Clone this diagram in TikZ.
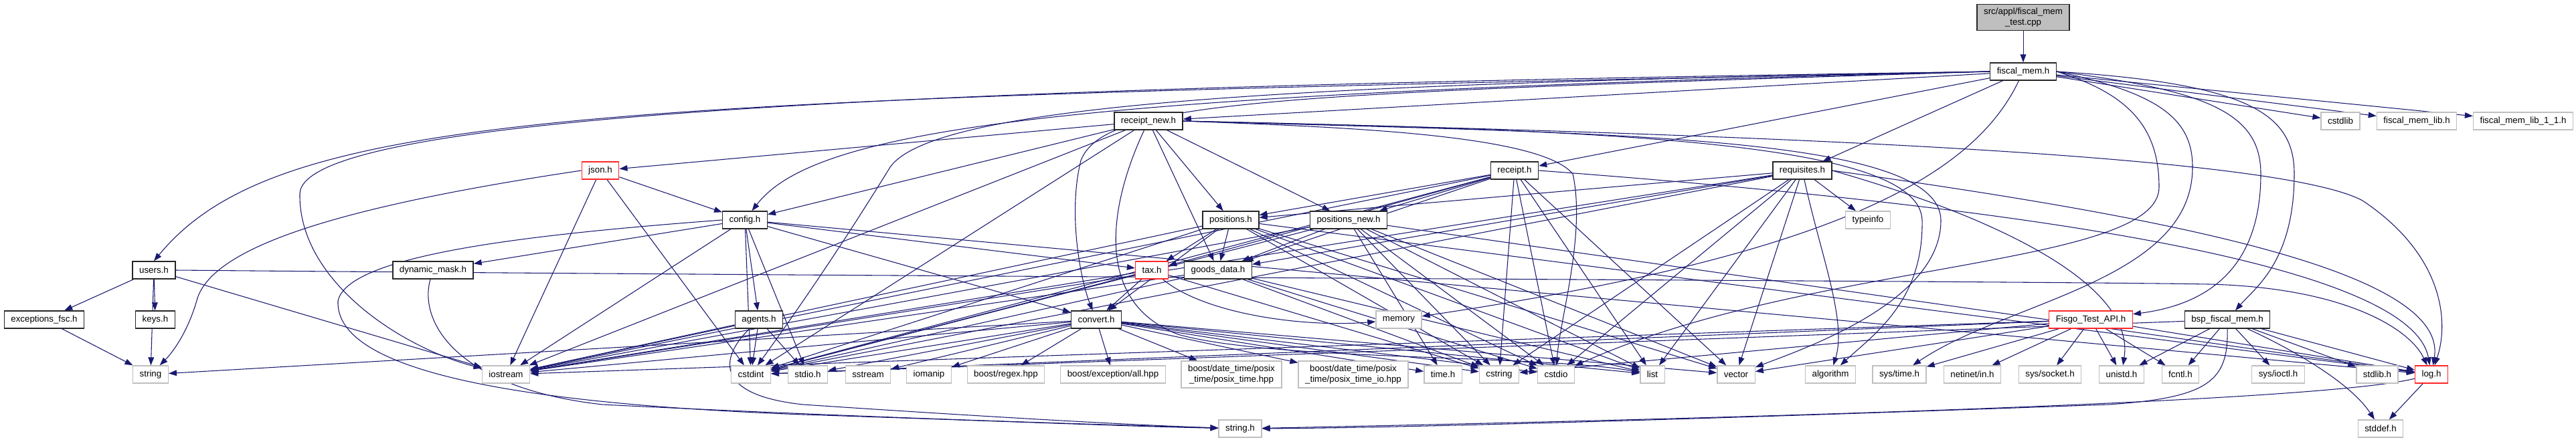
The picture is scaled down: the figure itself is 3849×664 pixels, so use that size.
\documentclass[tikz,border=0pt]{standalone}
\usepackage{fontspec}
\setmainfont{Liberation Sans}
\usetikzlibrary{arrows.meta,backgrounds}

\definecolor{edgeblue}{HTML}{191970}
\definecolor{boxgray}{HTML}{BFBFBF}

\tikzset{
  file/.style={rectangle, fill=white, inner xsep=7.5pt, inner ysep=2pt, minimum height=19.5pt,
    font=\fontsize{10}{12}\selectfont, align=center, line width=1pt},
  docfile/.style={file, draw=black!85},
  sysfile/.style={file, draw=boxgray},
  cutfile/.style={file, draw=red!85},
  srcfile/.style={file, draw=black!85, fill=boxgray},
  dep/.style={draw=edgeblue, line width=0.8pt, -{Triangle[length=9pt,width=6.5pt]}},
}

\begin{document}
\begin{tikzpicture}[x=0.75pt, y=-0.75pt]
	\useasboundingbox (0,0) rectangle (3849,664);

	% --- SOURCE FILE ---
	\node[srcfile, minimum height=29.5pt] (main) at (3023,26) {src/appl/fiscal\_mem\\\_test.cpp};

	% --- PROJECT HEADERS ---
	\node[docfile] (fmem) at (3023,107) {fiscal\_mem.h};
	\node[docfile] (recnew) at (1716,181) {receipt\_new.h};
	\node[cutfile] (json) at (897,255) {json.h};
	\node[docfile] (receipt) at (2263,255) {receipt.h};
	\node[docfile] (requis) at (2693,255) {requisites.h};
	\node[docfile] (config) at (1113,329) {config.h};
	\node[docfile] (positions) at (1839,329) {positions.h};
	\node[docfile] (posnew) at (2015,329) {positions\_new.h};
	\node[docfile] (users) at (230,404) {users.h};
	\node[docfile] (dynmask) at (647,404) {dynamic\_mask.h};
	\node[cutfile] (tax) at (1721,404) {tax.h};
	\node[docfile] (goods) at (1820,404) {goods\_data.h};
	\node[docfile] (excfsc) at (66,478) {exceptions\_fsc.h};
	\node[docfile] (keys) at (232,478) {keys.h};
	\node[docfile] (agents) at (1134,478) {agents.h};
	\node[docfile] (convert) at (1638,478) {convert.h};
	\node[cutfile] (fisgo) at (3124,478) {Fisgo\_Test\_API.h};
	\node[docfile] (bsp) at (3328,478) {bsp\_fiscal\_mem.h};
	\node[cutfile] (logh) at (3633,560) {log.h};

	% --- SYSTEM HEADERS ---
	\node[sysfile] (cstdlib) at (3497,181) {cstdlib};
	\node[sysfile] (fmlib) at (3611,181) {fiscal\_mem\_lib.h};
	\node[sysfile] (fmlib11) at (3770,181) {fiscal\_mem\_lib\_1\_1.h};
	\node[sysfile] (typeinfo) at (2791,329) {typeinfo};
	\node[sysfile] (memory) at (2090,478) {memory};
	\node[sysfile] (string) at (225,560) {string};
	\node[sysfile] (iostream) at (756,560) {iostream};
	\node[sysfile] (cstdint) at (1122,560) {cstdint};
	\node[sysfile] (stdioh) at (1207,560) {stdio.h};
	\node[sysfile] (sstream) at (1297,560) {sstream};
	\node[sysfile] (iomanip) at (1388,560) {iomanip};
	\node[sysfile] (regex) at (1503,560) {boost/regex.hpp};
	\node[sysfile] (bexc) at (1663,560) {boost/exception/all.hpp};
	\node[sysfile, minimum height=30pt] (ptime) at (1840,560) {boost/date\_time/posix\\\_time/posix\_time.hpp};
	\node[sysfile, minimum height=30pt] (ptimeio) at (2022,560) {boost/date\_time/posix\\\_time/posix\_time\_io.hpp};
	\node[sysfile] (timeh) at (2156,560) {time.h};
	\node[sysfile] (cstring) at (2240,560) {cstring};
	\node[sysfile] (cstdio) at (2325,560) {cstdio};
	\node[sysfile] (list) at (2469,560) {list};
	\node[sysfile] (vector) at (2594,560) {vector};
	\node[sysfile] (algorithm) at (2735,560) {algorithm};
	\node[sysfile] (systime) at (2838,560) {sys/time.h};
	\node[sysfile] (netinet) at (2947,560) {netinet/in.h};
	\node[sysfile] (syssocket) at (3063,560) {sys/socket.h};
	\node[sysfile] (unistd) at (3170,560) {unistd.h};
	\node[sysfile] (fcntl) at (3258,560) {fcntl.h};
	\node[sysfile] (ioctl) at (3404,560) {sys/ioctl.h};
	\node[sysfile] (stdlibh) at (3552,560) {stdlib.h};
	\node[sysfile] (stringh) at (1853,641) {string.h};
	\node[sysfile] (stddef) at (3557,641) {stddef.h};

	\begin{pgfonlayer}{background}
	% --- fiscal_mem_test.cpp / fiscal_mem.h ---
	\draw[dep] (main) -- (fmem);
	\draw[dep] (fmem.west) .. controls (900,150) and (420,160) .. (users.north);
	\draw[dep] (fmem.west) .. controls (1400,130) and (450,170) .. (448,290) .. controls (446,420) and (600,520) .. (iostream);
	\draw[dep] (fmem.west) .. controls (1600,140) and (1220,190) .. (config);
	\draw[dep] (fmem.west) .. controls (1900,140) and (1650,150) .. (1615,240) .. controls (1595,320) and (1615,420) .. (convert);
	\draw[dep] (fmem.west) .. controls (2000,125) and (1400,150) .. (1330,250) .. controls (1250,380) and (1180,480) .. (cstdint);
	\draw[dep] (fmem) .. controls (2950,260) and (2750,380) .. (memory);
	\draw[dep] (fmem.east) .. controls (3300,135) and (3378,170) .. (3378,260) .. controls (3378,400) and (3300,455) .. (fisgo);
	\draw[dep] (fmem.east) .. controls (3360,125) and (3428,170) .. (3428,260) .. controls (3428,390) and (3370,430) .. (bsp);
	\draw[dep] (fmem.east) .. controls (3230,140) and (3276,180) .. (3276,250) .. controls (3276,420) and (3000,450) .. (systime);
	\draw[dep] (fmem.east) .. controls (3180,140) and (3226,190) .. (3226,280) .. controls (3226,400) and (2700,390) .. (cstdio);
	\foreach \t in {recnew,receipt,requis,cstdlib,fmlib,fmlib11}
		\draw[dep] (fmem) -- (\t);

	% --- receipt_new.h ---
	\foreach \t in {json,config,positions,posnew,goods,iostream,cstdint}
		\draw[dep] (recnew) -- (\t);
	\draw[dep] (recnew) .. controls (1660,300) and (1630,450) .. (1760,500) .. controls (1900,540) and (2300,530) .. (list);
	\draw[dep] (recnew.east) .. controls (2000,190) and (2300,200) .. (2350,260) .. controls (2370,350) and (2330,480) .. (cstdio);
	\draw[dep] (recnew.east) .. controls (2400,200) and (2900,200) .. (2900,330) .. controls (2900,450) and (2700,520) .. (vector);
	\draw[dep] (recnew.east) .. controls (2400,195) and (2870,210) .. (2872,330) .. controls (2874,450) and (2800,500) .. (algorithm);
	\draw[dep] (recnew.east) .. controls (2600,200) and (3400,230) .. (3530,300) .. controls (3650,380) and (3660,480) .. (logh);

	% --- receipt.h / requisites.h ---
	\foreach \t in {positions,posnew,goods,tax,iostream,cstdint,cstring,cstdio,list,vector}
		\draw[dep] (receipt) -- (\t);
	\draw[dep] (receipt.east) .. controls (2900,300) and (3600,380) .. (logh);
	\foreach \t in {positions,goods,typeinfo,cstdio,list,vector,cstdint,iostream,cstring}
		\draw[dep] (requis) -- (\t);
	\draw[dep] (requis.east) .. controls (3000,330) and (3190,430) .. (unistd);
	\draw[dep] (requis) .. controls (2720,380) and (2760,480) .. (algorithm);
	\draw[dep] (requis.east) .. controls (3200,320) and (3660,400) .. (logh);

	% --- positions ---
	\foreach \t in {tax,goods,convert,iostream,cstdint,cstring,cstdio,list,vector,logh}
		\draw[dep] (positions) -- (\t);
	\foreach \t in {goods,iostream,cstdint,cstring,cstdio,list,vector,logh,timeh}
		\draw[dep] (posnew) -- (\t);
	\foreach \t in {iostream,cstdint,cstring,cstdio,list}
		\draw[dep] (goods) -- (\t);
	\foreach \t in {convert,iostream,cstdint,cstring}
		\draw[dep] (tax) -- (\t);
	\draw[dep] (tax) .. controls (1800,470) and (1950,490) .. (memory);

	% --- convert.h ---
	\foreach \t in {iostream,cstdint,stdioh,sstream,iomanip,regex,bexc,ptime,ptimeio,timeh,cstring,cstdio,list,vector,string}
		\draw[dep] (convert) -- (\t);

	% --- config.h / json.h ---
	\foreach \t in {dynmask,agents,tax,convert,iostream,cstdint,stdioh,logh}
		\draw[dep] (config) -- (\t);
	\draw[dep] (config.west) .. controls (800,350) and (520,380) .. (505,450) .. controls (500,560) and (800,605) .. (1200,620) .. controls (1500,630) and (1700,638) .. (stringh);
	\foreach \t in {config,iostream,cstdint}
		\draw[dep] (json) -- (\t);
	\draw[dep] (json.west) .. controls (500,310) and (320,370) .. (295,446) .. controls (280,500) and (255,530) .. (string);

	% --- users.h ---
	\foreach \t in {excfsc,keys,string,iostream}
		\draw[dep] (users) -- (\t);
	\draw[dep] (users.east) .. controls (1500,415) and (3000,420) .. (3300,425) .. controls (3500,430) and (3600,490) .. (logh);
	\draw[dep] (excfsc) -- (string);
	\draw[dep] (dynmask) .. controls (625,480) and (680,580) .. (900,605) .. controls (1300,625) and (1650,635) .. (stringh);

	% --- agents.h ---
	\foreach \t in {cstdint,stdioh,iostream}
		\draw[dep] (agents) -- (\t);
	\draw[dep] (agents) .. controls (1080,530) and (1060,590) .. (1200,605) .. controls (1500,625) and (1700,636) .. (stringh);

	% --- Fisgo / bsp / log ---
	\foreach \t in {systime,netinet,syssocket,unistd,fcntl,logh,vector,cstring,iostream,cstdint}
		\draw[dep] (fisgo) -- (\t);
	\foreach \t in {unistd,fcntl,ioctl,stdlibh,logh,cstdint}
		\draw[dep] (bsp) -- (\t);
	\draw[dep] (bsp) .. controls (3420,520) and (3510,570) .. (stddef);
	\draw[dep] (bsp.south) .. controls (3330,570) and (3300,595) .. (3150,605) .. controls (2600,625) and (2100,640) .. (stringh);
	\draw[dep] (logh) -- (stddef);
	\draw[dep] (logh) .. controls (3450,605) and (2400,630) .. (stringh);
	\end{pgfonlayer}

\end{tikzpicture}
\end{document}
